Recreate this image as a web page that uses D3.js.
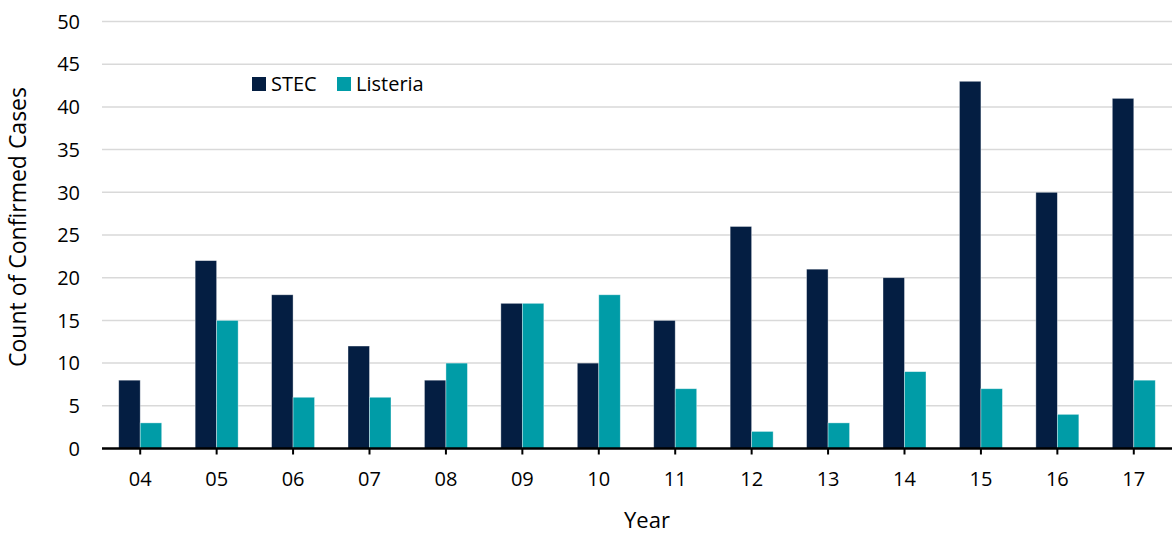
<!DOCTYPE html>
<html>
<head>
<meta charset="utf-8">
<script src="https://cdn.jsdelivr.net/npm/d3@7"></script>
<style>
  body { margin: 0; background: #fff; }
  svg { display: block; font-family: "Open Sans", "Noto Sans", sans-serif; }
</style>
</head>
<body>
<script>
const years = ["04", "05", "06", "07", "08", "09", "10", "11", "12", "13", "14", "15", "16", "17"];
const stec = [8, 22, 18, 12, 8, 17, 10, 15, 26, 21, 20, 43, 30, 41];
const listeria = [3, 15, 6, 6, 10, 17, 18, 7, 2, 3, 9, 7, 4, 8];
const seriesNames = ["STEC", "Listeria"];
const yTicks = [0, 5, 10, 15, 20, 25, 30, 35, 40, 45, 50];

const w = 1172, h = 535;
const colors = { STEC: "#041e42", Listeria: "#009ca7" };

const svg = d3.select("body").append("svg")
  .attr("width", w)
  .attr("height", h);

const x = d3.scaleBand()
  .domain(years)
  .range([102, 1172])
  .paddingInner(0.4375)
  .paddingOuter(0.21875);

const xSub = d3.scaleBand()
  .domain(seriesNames)
  .range([0, x.bandwidth()]);

const y = d3.scaleLinear()
  .domain([0, 50])
  .range([448.5, 21.5]);

// gridlines
svg.append("g")
  .selectAll("line")
  .data(yTicks.filter(d => d > 0))
  .enter()
  .append("line")
  .attr("x1", 102)
  .attr("x2", 1172)
  .attr("y1", d => y(d))
  .attr("y2", d => y(d))
  .attr("stroke", "#d9d9d9")
  .attr("stroke-width", 1.5);

// y tick labels
svg.append("g")
  .selectAll("text")
  .data(yTicks)
  .enter()
  .append("text")
  .attr("x", 80)
  .attr("y", d => y(d))
  .attr("dy", "0.36em")
  .attr("text-anchor", "end")
  .style("font-size", "20px")
  .style("fill", "#000")
  .text(d => d);

// bars
const rows = years.map((yr, i) => ({ year: yr, STEC: stec[i], Listeria: listeria[i] }));

const group = svg.append("g")
  .selectAll("g")
  .data(rows)
  .enter()
  .append("g")
  .attr("transform", d => `translate(${x(d.year)},0)`);

group.selectAll("rect")
  .data(d => seriesNames.map(k => ({ key: k, value: d[k] })))
  .enter()
  .append("rect")
  .attr("x", d => xSub(d.key))
  .attr("y", d => y(d.value))
  .attr("width", xSub.bandwidth())
  .attr("height", d => y(0) - y(d.value))
  .attr("fill", d => colors[d.key])
  .attr("stroke", "rgba(255,255,255,0.5)")
  .attr("stroke-width", 0.75);

// x axis
const xAxis = svg.append("g")
  .attr("transform", `translate(0,${y(0)})`)
  .call(d3.axisBottom(x).tickSize(6).tickPadding(17.5));

xAxis.select(".domain")
  .attr("d", "M102,0H1172")
  .attr("stroke", "#000")
  .attr("stroke-width", 2.5);

xAxis.selectAll(".tick line")
  .attr("stroke", "#000")
  .attr("stroke-width", 2);

xAxis.selectAll(".tick text")
  .style("font-size", "20px")
  .style("font-family", "'Open Sans', 'Noto Sans', sans-serif")
  .style("fill", "#000");

// axis titles
svg.append("text")
  .attr("x", 647)
  .attr("y", 528)
  .attr("text-anchor", "middle")
  .style("font-size", "22px")
  .text("Year");

svg.append("text")
  .attr("transform", "translate(26,227) rotate(-90)")
  .attr("text-anchor", "middle")
  .style("font-size", "23px")
  .text("Count of Confirmed Cases");

// legend
const legendX = [252, 337];
const legend = svg.append("g")
  .selectAll("g")
  .data(seriesNames)
  .enter()
  .append("g")
  .attr("transform", (d, i) => `translate(${legendX[i]},77)`);

legend.append("rect")
  .attr("width", 14)
  .attr("height", 14)
  .attr("fill", d => colors[d]);

legend.append("text")
  .attr("x", 19)
  .attr("y", 14)
  .style("font-size", "20px")
  .text(d => d);
</script>
</body>
</html>
